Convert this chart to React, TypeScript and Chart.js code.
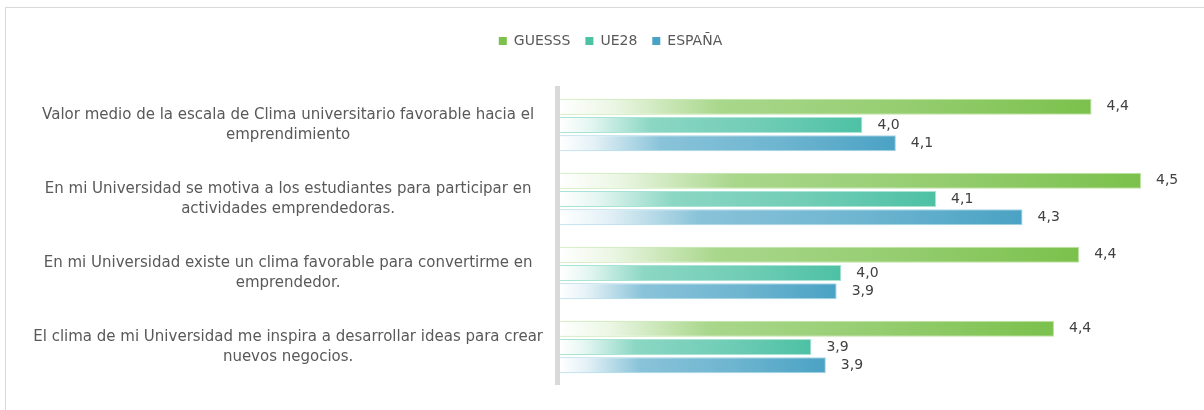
import React, { useEffect, useRef } from "react";
import { Chart, registerables } from "chart.js";

Chart.register(...registerables);

const CATEGORIES: string[][] = [
  ["Valor medio de la escala de Clima universitario favorable hacia el", "emprendimiento"],
  ["En mi Universidad se motiva a los estudiantes para participar en", "actividades emprendedoras."],
  ["En mi Universidad existe un clima favorable para convertirme en", "emprendedor."],
  ["El clima de mi Universidad me inspira a desarrollar ideas para crear", "nuevos negocios."],
];
const SERIES_NAMES = ["GUESSS", "UE28", "ESPAÑA"];
const GUESSS = [4.438, 4.534, 4.414, 4.365];
const UE28 = [3.993, 4.136, 3.952, 3.894];
const ESPANA = [4.058, 4.304, 3.943, 3.922];

const X_MIN = 3.4;
const X_MAX = 4.6;
const BAR_BASE = 3.406;

const COLORS = ["#7bc14c", "#4dc1a4", "#4aa2c4"];
const EDGE_COLORS = ["#bfe3a4", "#a8e4d4", "#a6d4e6"];

const FONT = "'DejaVu Sans', sans-serif";
const TEXT = "#595959";

function hexToRgb(h: string) {
  const n = parseInt(h.slice(1), 16);
  return [(n >> 16) & 255, (n >> 8) & 255, n & 255];
}
function mix(h: string, w: number) {
  const [r, g, b] = hexToRgb(h);
  const f = (c: number) => Math.round(c + (255 - c) * w);
  return `rgb(${f(r)},${f(g)},${f(b)})`;
}

const legendSpace = {
  id: "legendSpace",
  beforeInit(chart: any) {
    if (!chart.legend) return;
    const orig = chart.legend.fit;
    chart.legend.fit = function () {
      orig.bind(chart.legend)();
      this.height = 69;
    };
  },
  afterLayout(chart: any) {
    if (!chart.legend) return;
    chart.legend.left += 23;
    chart.legend.right += 23;
  },
};

const valueLabels = {
  id: "valueLabels",
  afterDatasetsDraw(chart: any) {
    const ctx = chart.ctx;
    ctx.save();
    ctx.font = `14px ${FONT}`;
    ctx.fillStyle = "#404040";
    ctx.textAlign = "left";
    ctx.textBaseline = "middle";
    chart.data.datasets.forEach((ds: any, di: number) => {
      const meta = chart.getDatasetMeta(di);
      meta.data.forEach((el: any, i: number) => {
        const v = ds.data[i] as number;
        ctx.fillText(v.toFixed(1).replace(".", ","), el.x + 15, el.y);
      });
    });
    ctx.restore();
  },
};

function gradientFor(color: string) {
  return (c: any) => {
    const chart = c.chart;
    if (!chart.chartArea || c.type !== "data" || !c.parsed) return color;
    const xs = chart.scales.x;
    const x0 = xs.getPixelForValue(BAR_BASE);
    const x1 = xs.getPixelForValue(c.parsed.x);
    if (!isFinite(x0) || !isFinite(x1) || x1 <= x0) return color;
    const g = chart.ctx.createLinearGradient(x0, 0, x1, 0);
    g.addColorStop(0, "#ffffff");
    g.addColorStop(0.1, mix(color, 0.85));
    g.addColorStop(0.3, mix(color, 0.35));
    g.addColorStop(0.65, mix(color, 0.2));
    g.addColorStop(1, color);
    return g;
  };
}

export default function App() {
  const ref = useRef<HTMLCanvasElement | null>(null);

  useEffect(() => {
    if (!ref.current) return;
    const seriesData = [GUESSS, UE28, ESPANA];
    const chart = new Chart(ref.current, {
      type: "bar",
      data: {
        labels: CATEGORIES,
        datasets: seriesData.map((d, i) => ({
          label: SERIES_NAMES[i],
          data: d,
          base: BAR_BASE,
          backgroundColor: gradientFor(COLORS[i]),
          borderColor: EDGE_COLORS[i],
          borderWidth: 1,
          categoryPercentage: 0.74,
          barPercentage: 0.88,
        })),
      },
      options: {
        indexAxis: "y",
        responsive: false,
        animation: false,
        layout: { padding: { top: 19, right: 29, bottom: 26, left: 0 } },
        scales: {
          x: {
            display: false,
            min: X_MIN,
            max: X_MAX,
          },
          y: {
            grid: { display: false, drawTicks: false },
            border: { display: true, color: "#d9d9d9", width: 5 },
            ticks: {
              crossAlign: "center",
              padding: 14,
              color: TEXT,
              font: { family: FONT, size: 15, lineHeight: 1.33 },
            },
            afterFit(scale: any) {
              scale.width = 557;
              scale.paddingTop = 0;
              scale.paddingBottom = 0;
            },
          },
        },
        plugins: {
          tooltip: { enabled: false },
          legend: {
            position: "top",
            labels: {
              boxWidth: 8,
              boxHeight: 8,
              padding: 15,
              color: TEXT,
              font: { family: FONT, size: 14 },
              generateLabels(ch: any) {
                const items = Chart.defaults.plugins.legend.labels.generateLabels(ch);
                return items.map((it: any, i: number) => ({
                  ...it,
                  fillStyle: COLORS[i],
                  strokeStyle: COLORS[i],
                  lineWidth: 0,
                }));
              },
            },
          },
        },
      } as any,
      plugins: [legendSpace, valueLabels],
    });
    return () => chart.destroy();
  }, []);

  return (
    <div
      style={{
        position: "absolute",
        left: 0,
        top: 0,
        width: 1204,
        height: 410,
        overflow: "hidden",
        background: "#ffffff",
      }}
    >
      <div
        style={{
          position: "absolute",
          left: 5,
          top: 7,
          width: 1300,
          height: 500,
          border: "1px solid #d9d9d9",
          boxSizing: "border-box",
        }}
      />
      <canvas
        ref={ref}
        width={1204}
        height={410}
        style={{ position: "absolute", left: 0, top: 0, display: "block" }}
      />
    </div>
  );
}
